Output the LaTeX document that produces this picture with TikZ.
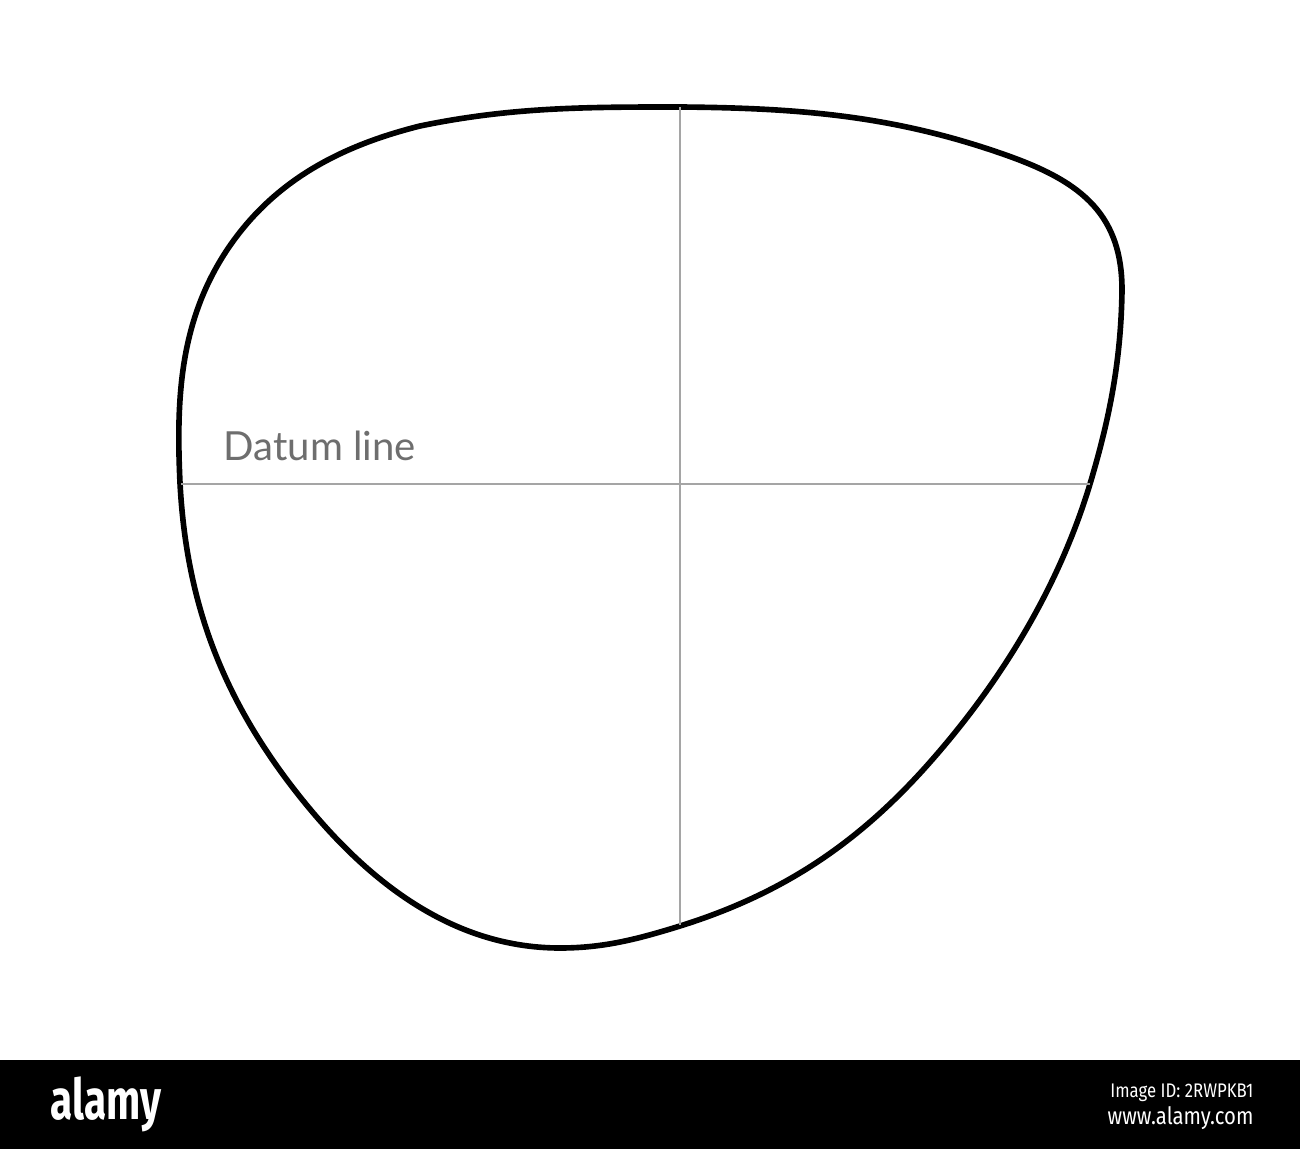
\documentclass[tikz,border=0pt]{standalone}
\usepackage{fontspec}
\setmainfont{Lato}
\newfontfamily\wmfont{Fira Sans}
\definecolor{datumgray}{RGB}{165,165,165}
\definecolor{textgray}{RGB}{110,110,110}
\tikzset{
  lensrim/.style={line width=1.6pt, black},
  datum/.style={line width=0.45pt, datumgray},
  wmtext/.style={text=white, inner sep=0pt}
}
\begin{document}
\begin{tikzpicture}[x=0.01cm, y=-0.01cm]
  \useasboundingbox (0,0) rectangle (1300,1149);

  % lens outline
  \draw[lensrim] (680,107) .. controls (796,108) and (890,115) .. (1000,153)
    .. controls (1076,179) and (1122,210) .. (1122,290)
    .. controls (1121,360) and (1110,417) .. (1090,484)
    .. controls (1058,590) and (998,687) .. (923,770)
    .. controls (853,847) and (779,895) .. (680,926)
    .. controls (638,939) and (604,948) .. (560,948)
    .. controls (445,948) and (356,872) .. (287,780)
    .. controls (219,689) and (186,597) .. (180,483)
    .. controls (176,397) and (180,321) .. (227,250)
    .. controls (273,181) and (340,146) .. (420,126)
    .. controls (512,107) and (586,107) .. (680,107) -- cycle;

  % datum and vertical lines
  \draw[datum] (181,484) -- (1090,484);
  \draw[datum] (680,107) -- (680,925);
  \node[font=\fontsize{11.4}{13}\selectfont, text=textgray, anchor=base west, inner sep=0pt]
    (datumlabel) at (223,461) {Datum line};

  % stock watermark bar
  \fill[black] (0,1060) rectangle (1300,1149);
  \node[wmtext, anchor=base west, font=\wmfont\bfseries\fontsize{16}{18}\selectfont, xscale=0.72]
    (wmlogo) at (50,1119) {alamy};
  \node[wmtext, anchor=base east, font=\wmfont\fontsize{5.6}{7}\selectfont, xscale=0.85]
    (wmid) at (1254,1097) {Image ID: 2RWPKB1};
  \node[wmtext, anchor=base east, font=\wmfont\fontsize{6.8}{8}\selectfont, xscale=0.85]
    (wmurl) at (1254,1124) {www.alamy.com};
\end{tikzpicture}
\end{document}
